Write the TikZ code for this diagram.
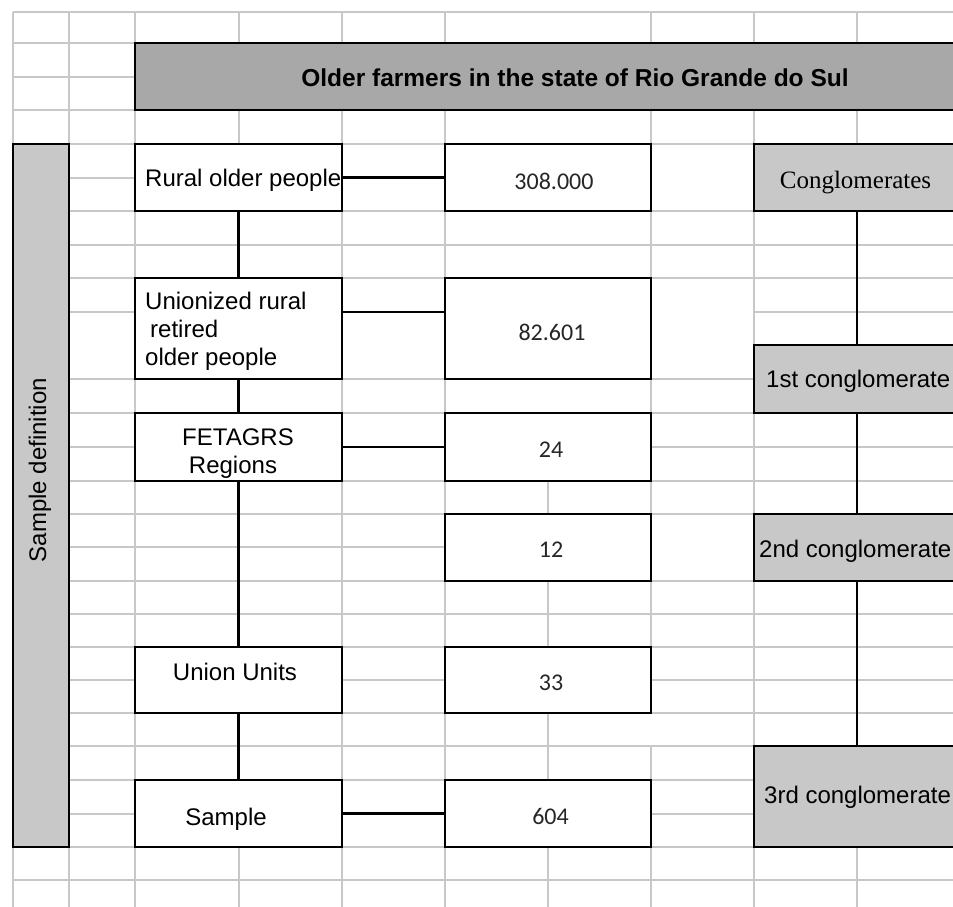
\documentclass[tikz,border=0pt]{standalone}
\usepackage{fontspec}
\setmainfont{Liberation Sans}
\newfontfamily\numfont{Carlito}
\newfontfamily\serffont{Liberation Serif}
\definecolor{gridc}{RGB}{200,200,200}
\definecolor{darkfill}{RGB}{168,168,168}
\definecolor{lightfill}{RGB}{200,200,200}
\begin{document}
\begin{tikzpicture}[x=1pt,y=-1pt,
  gridline/.style={draw=gridc, line width=1.8pt},
  box/.style={draw=black, line width=2.6pt, fill=white, inner sep=0pt, outer sep=0pt},
  darkbox/.style={box, fill=darkfill},
  lightbox/.style={box, fill=lightfill},
  conn/.style={draw=black, line width=2.4pt},
  txt/.style={inner sep=0pt, font=\fontsize{24}{28}\selectfont},
  titletxt/.style={inner sep=0pt, font=\bfseries\fontsize{24.5}{29}\selectfont},
  numtxt/.style={inner sep=0pt, font=\numfont\fontsize{24}{28}\selectfont, text=black!85},
  seriftxt/.style={inner sep=0pt, font=\serffont\fontsize{25}{29}\selectfont}
]
\path[use as bounding box] (0,0) rectangle (953,907);
\clip (0,0) rectangle (953,907);
\fill[white] (0,0) rectangle (953,907);

% spreadsheet grid
\foreach \gx in {13,69,135,239,342,445,754,857}
  \draw[gridline] (\gx,12) -- (\gx,907);
\draw[gridline] (548,481) -- (548,907);
\draw[gridline] (651,12) -- (651,713);
\draw[gridline] (651,746) -- (651,907);
\foreach \gy in {12,43,77,110,144,211,245,278,379,413,447,481,514,581,614,647,680,713,746,780,814,847,880}
  \draw[gridline] (13,\gy) -- (953,\gy);
\foreach \gy in {178,312,547}{
  \draw[gridline] (13,\gy) -- (651,\gy);
  \draw[gridline] (754,\gy) -- (953,\gy);
}

% boxes
\node[darkbox, minimum width=880pt, minimum height=67pt] (title) at (575,76.5) {};
\node[lightbox, minimum width=56pt, minimum height=703pt] (sampledef) at (41,495.5) {};

\node[box, minimum width=207pt, minimum height=67pt] (rural) at (238.5,177.5) {};
\node[box, minimum width=207pt, minimum height=101pt] (unionized) at (238.5,328.5) {};
\node[box, minimum width=207pt, minimum height=68pt] (fetagrs) at (238.5,447) {};
\node[box, minimum width=207pt, minimum height=66pt] (units) at (238.5,680) {};
\node[box, minimum width=207pt, minimum height=67pt] (sample) at (238.5,813.5) {};

\node[box, minimum width=206pt, minimum height=67pt] (n308) at (548,177.5) {};
\node[box, minimum width=206pt, minimum height=101pt] (n826) at (548,328.5) {};
\node[box, minimum width=206pt, minimum height=68pt] (n24) at (548,447) {};
\node[box, minimum width=206pt, minimum height=67pt] (n12) at (548,547.5) {};
\node[box, minimum width=206pt, minimum height=66pt] (n33) at (548,680) {};
\node[box, minimum width=206pt, minimum height=67pt] (n604) at (548,813.5) {};

\node[lightbox, minimum width=206pt, minimum height=67pt] (cong) at (857,177.5) {};
\node[lightbox, minimum width=206pt, minimum height=68pt] (c1) at (857,379) {};
\node[lightbox, minimum width=206pt, minimum height=67pt] (c2) at (857,547.5) {};
\node[lightbox, minimum width=206pt, minimum height=101pt] (c3) at (857,796.5) {};

% connectors
\draw[conn] (rural.east) -- (n308.west);
\draw[conn] (rural.south) -- (unionized.north);
\draw[conn] ([yshift=-34pt]unionized.north east) -- ([yshift=-34pt]n826.north west);
\draw[conn] (unionized.south) -- (fetagrs.north);
\draw[conn] (fetagrs.east) -- (n24.west);
\draw[conn] (fetagrs.south) -- (units.north);
\draw[conn] (units.south) -- (sample.north);
\draw[conn] (sample.east) -- (n604.west);
\draw[conn] (cong.south) -- (c1.north);
\draw[conn] (c1.south) -- (c2.north);
\draw[conn] (c2.south) -- (c3.north);

% texts
\node[titletxt, anchor=base] (title-t) at (575,87) {Older farmers in the state of Rio Grande do Sul};
\node[txt, rotate=90, anchor=base] (sampledef-t) at (46,470) {Sample definition};

\node[txt, anchor=base west] (rural-t) at (145,186) {Rural older people};
\node[txt, anchor=base west] (unionized-t1) at (145,309) {Unionized rural};
\node[txt, anchor=base west] (unionized-t2) at (150,337) {retired};
\node[txt, anchor=base west] (unionized-t3) at (145,365) {older people};
\node[txt, anchor=base] (fetagrs-t1) at (238,445) {FETAGRS};
\node[txt, anchor=base] (fetagrs-t2) at (233,473) {Regions};
\node[txt, anchor=base] (units-t) at (235,680) {Union Units};
\node[txt, anchor=base] (sample-t) at (226,825) {Sample};

\node[numtxt, anchor=base] (n308-t) at (554,189) {308.000};
\node[numtxt, anchor=base] (n826-t) at (552,340) {82.601};
\node[numtxt, anchor=base] (n24-t) at (551,457) {24};
\node[numtxt, anchor=base] (n12-t) at (551,557) {12};
\node[numtxt, anchor=base] (n33-t) at (551,690) {33};
\node[numtxt, anchor=base] (n604-t) at (550.5,824) {604};

\node[seriftxt, anchor=base] (cong-t) at (855.5,188) {Conglomerates};
\node[txt, anchor=base west] (c1-t) at (766,387) {1st conglomerate};
\node[txt, anchor=base west] (c2-t) at (759,557) {2nd conglomerate};
\node[txt, anchor=base west] (c3-t) at (764,803) {3rd conglomerate};
\end{tikzpicture}
\end{document}
